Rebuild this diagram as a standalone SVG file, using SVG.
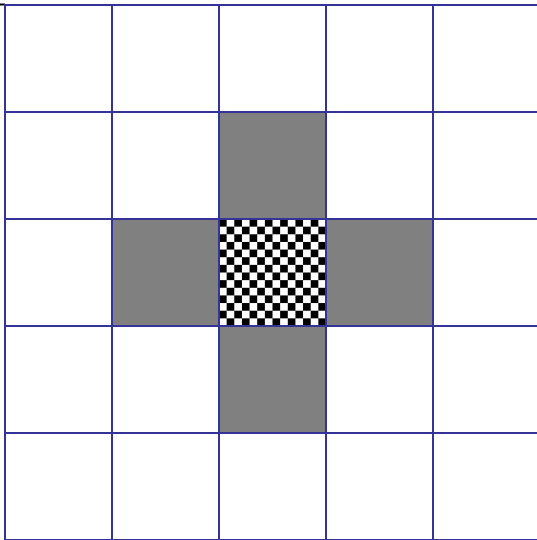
<svg xmlns="http://www.w3.org/2000/svg" width="537" height="540" viewBox="0 0 537 540">
<defs>
<pattern id="chk" x="219" y="219" width="15.2857" height="15.2857" patternUnits="userSpaceOnUse">
<rect width="15.2857" height="15.2857" fill="#fff"/>
<rect width="7.6429" height="7.6429" fill="#000"/>
<rect x="7.6429" y="7.6429" width="7.6429" height="7.6429" fill="#000"/>
</pattern>
<style>.g{fill:#808080}.ln{stroke:#333399;stroke-width:2;fill:none}</style>
</defs>
<rect width="537" height="540" fill="#fff"/>
<g id="cells">
<rect id="n-top" class="g" x="219" y="112" width="107" height="107"/>
<rect id="n-left" class="g" x="112" y="219" width="107" height="107"/>
<rect id="n-right" class="g" x="326" y="219" width="107" height="107"/>
<rect id="n-bottom" class="g" x="219" y="326" width="107" height="107"/>
<rect id="n-center" fill="url(#chk)" x="219" y="219" width="107" height="107"/>
</g>
<g id="grid" class="ln">
<line x1="0" y1="4.5" x2="5" y2="4.5" stroke="#000"/>
<path d="M5 4V541M112 4V541M219 4V541M326 4V541M433 4V541M4 5H541M4 112H541M4 219H541M4 326H541M4 433H541M4 540H541"/>
</g>
</svg>
